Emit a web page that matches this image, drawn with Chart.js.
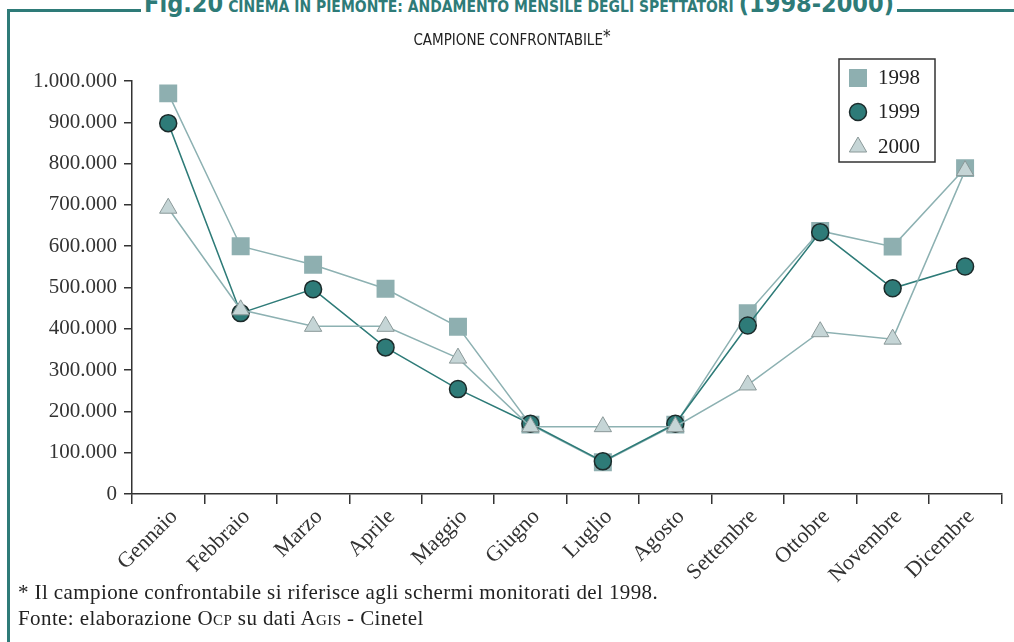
<!DOCTYPE html>
<html><head><meta charset="utf-8">
<script src="https://cdn.jsdelivr.net/npm/chart.js@4"></script>
<style>
html,body{margin:0;padding:0;background:#fff;}
#wrap{position:relative;width:1014px;height:642px;overflow:hidden;background:#fff;}
#c{position:absolute;left:0;top:0;}
.fl{position:absolute;left:7px;top:9px;width:3px;height:640px;background:#2e7b78;}
.ft{position:absolute;left:7px;top:9px;width:1007px;height:3px;background:#2e7b78;}
#title{position:absolute;left:141px;width:756px;top:-11px;height:30px;line-height:30px;text-align:center;background:#fff;color:#2e7b78;font-family:"DejaVu Sans Condensed","DejaVu Sans",sans-serif;font-weight:bold;white-space:nowrap;}
#title .b{font-size:25px;}
#title .s{font-size:15.5px;}
#sub{position:absolute;left:0;width:1024px;top:31px;text-align:center;font-family:"DejaVu Sans Condensed","DejaVu Sans",sans-serif;font-size:15px;color:#222;white-space:nowrap;}
#sub sup{font-size:17px;vertical-align:3px;line-height:0;}
.note{position:absolute;left:18px;font-family:"Liberation Serif",serif;font-size:21px;letter-spacing:0.4px;color:#222;white-space:nowrap;}
.sc{font-variant:small-caps;}
</style></head>
<body>
<div id="wrap">
<canvas id="c" width="1014" height="642"></canvas>
<div class="fl"></div><div class="ft"></div>
<div id="title"><span class="b">Fig.20</span> <span class="s">CINEMA IN PIEMONTE: ANDAMENTO MENSILE DEGLI SPETTATORI</span> <span class="b">(1998-2000)</span></div>
<div id="sub">CAMPIONE CONFRONTABILE<sup>*</sup></div>
<div class="note" style="top:580px">* Il campione confrontabile si riferisce agli schermi monitorati del 1998.</div>
<div class="note" style="top:606px">Fonte: elaborazione O<span class="sc">cp</span> su dati A<span class="sc">gis</span> - Cinetel</div>
</div>
<script>
const months = ["Gennaio","Febbraio","Marzo","Aprile","Maggio","Giugno","Luglio","Agosto","Settembre","Ottobre","Novembre","Dicembre"];
const seriesNames = ["1998","1999","2000"];
const v1998 = [970000,600000,555000,497000,405000,168000,77000,168000,438000,637000,599000,789000];
const v1999 = [898000,438000,496000,355000,254000,170000,79000,170000,408000,634000,498000,551000];
const v2000 = [692000,446000,406000,406000,329000,163000,163000,163000,264000,393000,375000,783000];
const yTicks = [0,100000,200000,300000,400000,500000,600000,700000,800000,900000,1000000];

const fmt = v => v === 0 ? "0" : v.toString().replace(/\B(?=(\d{3})+(?!\d))/g, ".");
const serif = "'Liberation Serif', serif";

const legendBox = {
  id: 'legendBox',
  afterDraw(chart) {
    const ctx = chart.ctx;
    ctx.save();
    ctx.lineWidth = 1.5;
    ctx.strokeStyle = '#333';
    ctx.strokeRect(839, 59, 96, 103);
    const rows = [78, 112, 147];
    chart.data.datasets.forEach((ds, i) => {
      ctx.fillStyle = ds.pointBackgroundColor;
      ctx.strokeStyle = ds.pointBorderColor;
      ctx.lineWidth = ds.pointBorderWidth;
      Chart.helpers.drawPoint(ctx, {pointStyle: ds.pointStyle, radius: ds.pointRadius, rotation: 0, borderWidth: ds.pointBorderWidth}, 858, rows[i]);
      ctx.fillStyle = '#222';
      ctx.font = "21px " + serif;
      ctx.textBaseline = 'middle';
      ctx.textAlign = 'left';
      ctx.fillText(ds.label, 878, rows[i]);
    });
    ctx.restore();
  }
};

new Chart(document.getElementById('c'), {
  type: 'line',
  data: {
    labels: months,
    datasets: [
      {label: seriesNames[0], data: v1998, order: 2, borderColor: '#8db1b2', borderWidth: 1.5,
       pointStyle: 'rect', pointRadius: 12.7, pointBackgroundColor: '#8eafb0', pointBorderColor: '#8eafb0', pointBorderWidth: 0},
      {label: seriesNames[1], data: v1999, order: 1, borderColor: '#2e7b78', borderWidth: 1.5,
       pointStyle: 'circle', pointRadius: 8.5, pointBackgroundColor: '#2e7b78', pointBorderColor: '#1c2b2b', pointBorderWidth: 1.5},
      {label: seriesNames[2], data: v2000, order: 0, borderColor: '#8db1b2', borderWidth: 1.5,
       pointStyle: 'triangle', pointRadius: 10, pointBackgroundColor: '#c5d5d6', pointBorderColor: '#8a9898', pointBorderWidth: 1}
    ]
  },
  options: {
    responsive: false,
    animation: false,
    layout: {padding: {left: 12, right: 12, top: 81, bottom: 0}},
    plugins: {legend: {display: false}, tooltip: {enabled: false}, title: {display: false}},
    scales: {
      x: {
        offset: true,
        grid: {offset: true, drawOnChartArea: false, drawTicks: true, tickLength: 10, color: '#333', lineWidth: 1.5},
        border: {display: true, color: '#333', width: 1.5},
        ticks: {autoSkip: false, minRotation: 45, maxRotation: 45, color: '#333', font: {family: serif, size: 22}, padding: 0, labelOffset: 6},
        afterFit: s => { s.height = 148; }
      },
      y: {
        min: 0, max: 1000000,
        afterBuildTicks: s => { s.ticks = yTicks.map(v => ({value: v})); },
        grid: {drawOnChartArea: false, drawTicks: true, tickLength: 8, color: '#333', lineWidth: 1.5},
        border: {display: true, color: '#333', width: 1.5},
        ticks: {color: '#333', font: {family: serif, size: 21}, padding: 7, callback: v => fmt(v)},
        afterFit: s => { s.width = 120; }
      }
    }
  },
  plugins: [legendBox]
});
</script>
</body></html>
